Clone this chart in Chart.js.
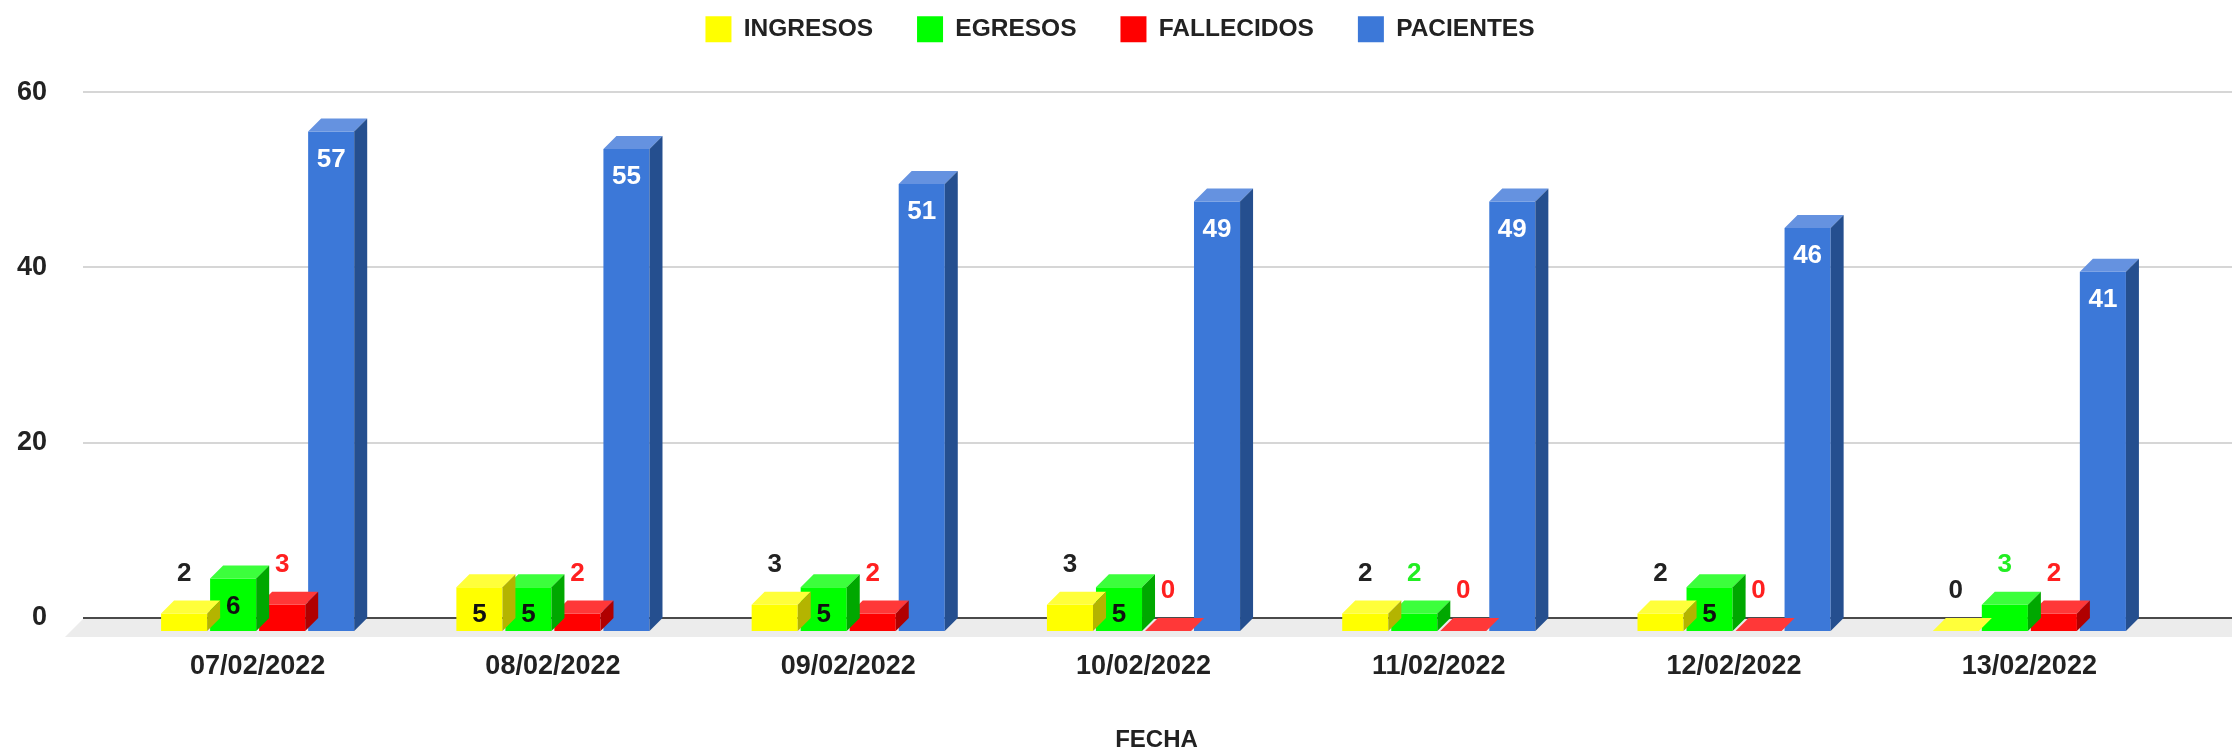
<!DOCTYPE html>
<html>
<head>
<meta charset="utf-8">
<script src="https://cdn.jsdelivr.net/npm/chart.js@4/dist/chart.umd.min.js"></script>
<style>
html,body{margin:0;padding:0;background:#ffffff;}
#wrap{width:2232px;height:752px;position:relative;}
</style>
</head>
<body>
<div id="wrap"><canvas id="c"></canvas></div>
<script>
// ---- data ----
const categories = ['07/02/2022','08/02/2022','09/02/2022','10/02/2022','11/02/2022','12/02/2022','13/02/2022'];
const ingresos   = [2, 5, 3, 3, 2, 2, 0];
const egresos    = [6, 5, 5, 5, 2, 5, 3];
const fallecidos = [3, 2, 2, 0, 0, 0, 2];
const pacientes  = [57, 55, 51, 49, 49, 46, 41];
const seriesNames = ['INGRESOS', 'EGRESOS', 'FALLECIDOS', 'PACIENTES'];
const yTickValues = [0, 20, 40, 60];
const xTitle = 'FECHA';

// ---- styles ----
const FONT = "'Liberation Sans', Arial, sans-serif";
const TEXT = '#222222';
const frontColors = ['#ffff00', '#00ff00', '#ff0000', '#3c78d8'];
const topColors   = ['#ffff3a', '#3cff3c', '#ff3838', '#6592e0'];
const sideColors  = ['#b4b400', '#00a800', '#b00000', '#254f8f'];
const aboveLabelColors  = ['#222222', '#22ee22', '#ff2020', '#222222'];
const insideLabelColors = ['#111111', '#111111', '#111111', '#ffffff'];
const DX = 13, DY = 13;      // depth offset of the 3D effect

const seriesData = [ingresos, egresos, fallecidos, pacientes];

// 3D bars: front face drawn by Chart.js (shifted), top + side faces added afterwards
const bars3d = {
  id: 'bars3d',
  beforeDatasetDraw(chart, args) {
    const ctx = chart.ctx;
    ctx.save();
    ctx.translate(-DX, DY);
  },
  afterDatasetDraw(chart, args) {
    const ctx = chart.ctx;
    ctx.restore();
    const i = args.index;
    args.meta.data.forEach(el => {
      const p = el.getProps(['x', 'y', 'base', 'width'], true);
      const fl = p.x - p.width / 2 - DX, fr = p.x + p.width / 2 - DX;
      const ft = p.y + DY, fb = p.base + DY;
      // top face
      ctx.beginPath();
      ctx.moveTo(fl, ft);
      ctx.lineTo(fr, ft);
      ctx.lineTo(fr + DX, ft - DY);
      ctx.lineTo(fl + DX, ft - DY);
      ctx.closePath();
      ctx.fillStyle = topColors[i];
      ctx.fill();
      // side face
      if (fb - ft > 0.5) {
        ctx.beginPath();
        ctx.moveTo(fr, ft);
        ctx.lineTo(fr + DX, ft - DY);
        ctx.lineTo(fr + DX, fb - DY);
        ctx.lineTo(fr, fb);
        ctx.closePath();
        ctx.fillStyle = sideColors[i];
        ctx.fill();
      }
    });
  }
};

// floor + gridlines spanning the back wall
const wall = {
  id: 'wall',
  beforeDatasetsDraw(chart) {
    const ctx = chart.ctx;
    const ys = chart.scales.y;
    const left = 83;
    const right = chart.width;
    const y0 = ys.getPixelForValue(0);
    ctx.save();
    // floor
    ctx.beginPath();
    ctx.moveTo(left, y0 + 1);
    ctx.lineTo(right, y0 + 1);
    ctx.lineTo(right, y0 + 19);
    ctx.lineTo(left - 18, y0 + 19);
    ctx.closePath();
    ctx.fillStyle = '#ececec';
    ctx.fill();
    // gridlines
    ys.ticks.forEach(t => {
      const y = Math.round(ys.getPixelForValue(t.value));
      ctx.beginPath();
      ctx.moveTo(left, y);
      ctx.lineTo(right, y);
      ctx.lineWidth = 2;
      ctx.strokeStyle = t.value === 0 ? '#4a4a4a' : '#d6d6d6';
      ctx.stroke();
    });
    ctx.restore();
  }
};

// value labels
const valueLabels = {
  id: 'valueLabels',
  afterDatasetsDraw(chart) {
    const ctx = chart.ctx;
    ctx.save();
    ctx.font = 'bold 26px ' + FONT;
    ctx.textAlign = 'center';
    ctx.textBaseline = 'middle';
    chart.data.datasets.forEach((ds, i) => {
      const meta = chart.getDatasetMeta(i);
      meta.data.forEach((el, j) => {
        const p = el.getProps(['x', 'y', 'base'], true);
        const v = ds.data[j];
        const fx = p.x - DX;
        if (p.base - p.y >= 40) {
          ctx.fillStyle = insideLabelColors[i];
          ctx.fillText(String(v), fx, p.y + 41);
        } else {
          ctx.fillStyle = aboveLabelColors[i];
          ctx.fillText(String(v), fx, p.y - 27);
        }
      });
    });
    ctx.restore();
  }
};

// legend sizing / placement
const legendFix = {
  id: 'legendFix',
  beforeLayout(chart) {
    const lg = chart.legend;
    if (lg && !lg._fixed) {
      const f = lg.fit;
      lg.fit = function () { f.call(this); this.height = 90; };
      lg._fixed = true;
    }
  },
  afterLayout(chart) {
    const lg = chart.legend;
    if (lg) {
      lg.top -= 30; lg.bottom -= 30;
      lg.left += 25; lg.right += 25;
    }
  }
};

const datasets = seriesNames.map((name, i) => ({
  label: name,
  data: seriesData[i],
  backgroundColor: frontColors[i],
  borderWidth: 0,
  clip: false,
  categoryPercentage: 0.664,
  barPercentage: 0.94
}));

Chart.defaults.font.family = FONT;
Chart.defaults.color = TEXT;

new Chart(document.getElementById('c'), {
  type: 'bar',
  data: { labels: categories, datasets },
  plugins: [legendFix, wall, bars3d, valueLabels],
  options: {
    responsive: true,
    maintainAspectRatio: false,
    animation: false,
    layout: { padding: { left: 0, right: 42, top: 0, bottom: 0 } },
    plugins: {
      legend: {
        position: 'top',
        labels: {
          boxWidth: 26, boxHeight: 26, padding: 44,
          color: TEXT,
          font: { size: 24.5, weight: 'bold', family: FONT }
        }
      },
      tooltip: { enabled: false }
    },
    scales: {
      x: {
        grid: { display: false, drawTicks: false, tickLength: 0 },
        border: { display: false },
        ticks: { font: { size: 27, weight: 'bold' }, color: TEXT, padding: 32, labelOffset: -DX, maxRotation: 0 },
        title: { display: true, text: xTitle, color: TEXT, font: { size: 24, weight: 'bold' }, padding: { top: 0, bottom: -3 } },
        afterFit(s) { s.height = 134; }
      },
      y: {
        min: 0, max: 60,
        afterBuildTicks(s) { s.ticks = yTickValues.map(v => ({ value: v })); },
        grid: { display: false, drawTicks: false, tickLength: 0 },
        border: { display: false },
        ticks: { font: { size: 27, weight: 'bold' }, color: TEXT, padding: 76 },
        afterFit(s) { s.width = 123; }
      }
    }
  }
});
</script>
</body>
</html>
